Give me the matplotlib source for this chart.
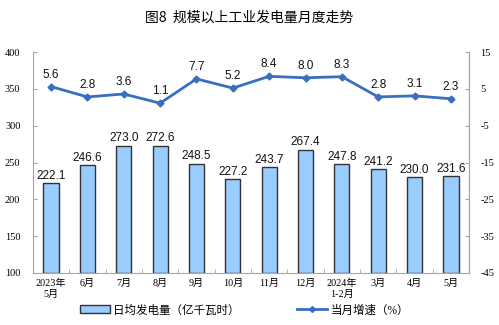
import matplotlib
matplotlib.use("Agg")
import matplotlib.pyplot as plt
from matplotlib.lines import Line2D
from matplotlib.patches import Patch

categories = ["2023年\n5月", "6月", "7月", "8月", "9月", "10月", "11月", "12月",
              "2024年\n1-2月", "3月", "4月", "5月"]
daily_output = [222.1, 246.6, 273.0, 272.6, 248.5, 227.2, 243.7, 267.4, 247.8, 241.2, 230.0, 231.6]
growth = [5.6, 2.8, 3.6, 1.1, 7.7, 5.2, 8.4, 8.0, 8.3, 2.8, 3.1, 2.3]
left_ticks = [100, 150, 200, 250, 300, 350, 400]
right_ticks = [-45, -35, -25, -15, -5, 5, 15]

cjk = ["Noto Sans CJK SC", "DejaVu Sans"]
serif_cjk = ["Liberation Serif", "Noto Sans CJK SC"]
bar_color = "#99CCFF"
line_color = "#3A6FC0"
axis_color = "#A6A6A6"

fig = plt.figure(figsize=(4.99, 3.25), dpi=100)
ax = fig.add_axes([0.066, 0.16, 0.874, 0.68])
x = list(range(len(categories)))

ax.bar(x, [v - 100 for v in daily_output], bottom=100, width=0.42,
       color=bar_color, edgecolor="#333333", linewidth=1.0, zorder=2)
for xi, v in zip(x, daily_output):
    ax.text(xi, v + 2, f"{v:.1f}", ha="center", va="bottom",
            fontsize=8.5, family="Liberation Sans", color="#111111")

ax.set_xlim(-0.5, len(categories) - 0.5)
ax.set_ylim(100, 400)
ax.set_yticks(left_ticks)
ax.set_yticklabels([str(t) for t in left_ticks], family="Liberation Serif", fontsize=7.5)
ax.set_xticks(x)
ax.set_xticklabels(categories, family=serif_cjk, fontsize=7.3, linespacing=1.35)
ax.set_xticks([i + 0.5 for i in x[:-1]], minor=True)
ax.tick_params(axis="x", which="major", length=0, pad=4)
ax.tick_params(axis="x", which="minor", length=3, direction="in", color=axis_color)
ax.tick_params(axis="y", length=3, direction="in", color=axis_color, pad=9)
ax.spines["top"].set_visible(False)
for s in ["left", "right", "bottom"]:
    ax.spines[s].set_color(axis_color)
    ax.spines[s].set_linewidth(0.8)

ax2 = ax.twinx()
ax2.plot(x, growth, color=line_color, linewidth=2.0, marker="D", markersize=3.5, zorder=3)
for xi, v in zip(x, growth):
    ax2.text(xi, v + 1.6, f"{v:.1f}", ha="center", va="bottom",
             fontsize=8.5, family="Liberation Sans", color="#111111")
ax2.set_ylim(-45, 15)
ax2.set_yticks(right_ticks)
ax2.set_yticklabels([str(t) for t in right_ticks], family="Liberation Serif", fontsize=7.5)
ax2.tick_params(axis="y", length=3, direction="in", color=axis_color, pad=8)
for s in ["top", "left", "bottom"]:
    ax2.spines[s].set_visible(False)
ax2.spines["right"].set_color(axis_color)
ax2.spines["right"].set_linewidth(0.8)

fig.text(0.5, 0.945, "图8  规模以上工业发电量月度走势", ha="center", va="center",
         fontsize=10, family=cjk)

handles = [Patch(facecolor=bar_color, edgecolor="#333333", linewidth=1.0),
           Line2D([0], [0], color=line_color, linewidth=2.0, marker="D", markersize=3)]
fig.legend(handles, ["日均发电量（亿千瓦时）", "当月增速（%）"], loc="center",
           bbox_to_anchor=(0.49, 0.045), ncol=2, frameon=False, columnspacing=5.0,
           handlelength=2.6, handletextpad=0.3, prop={"family": serif_cjk, "size": 8.3})

fig.savefig("out.png", dpi=100)
